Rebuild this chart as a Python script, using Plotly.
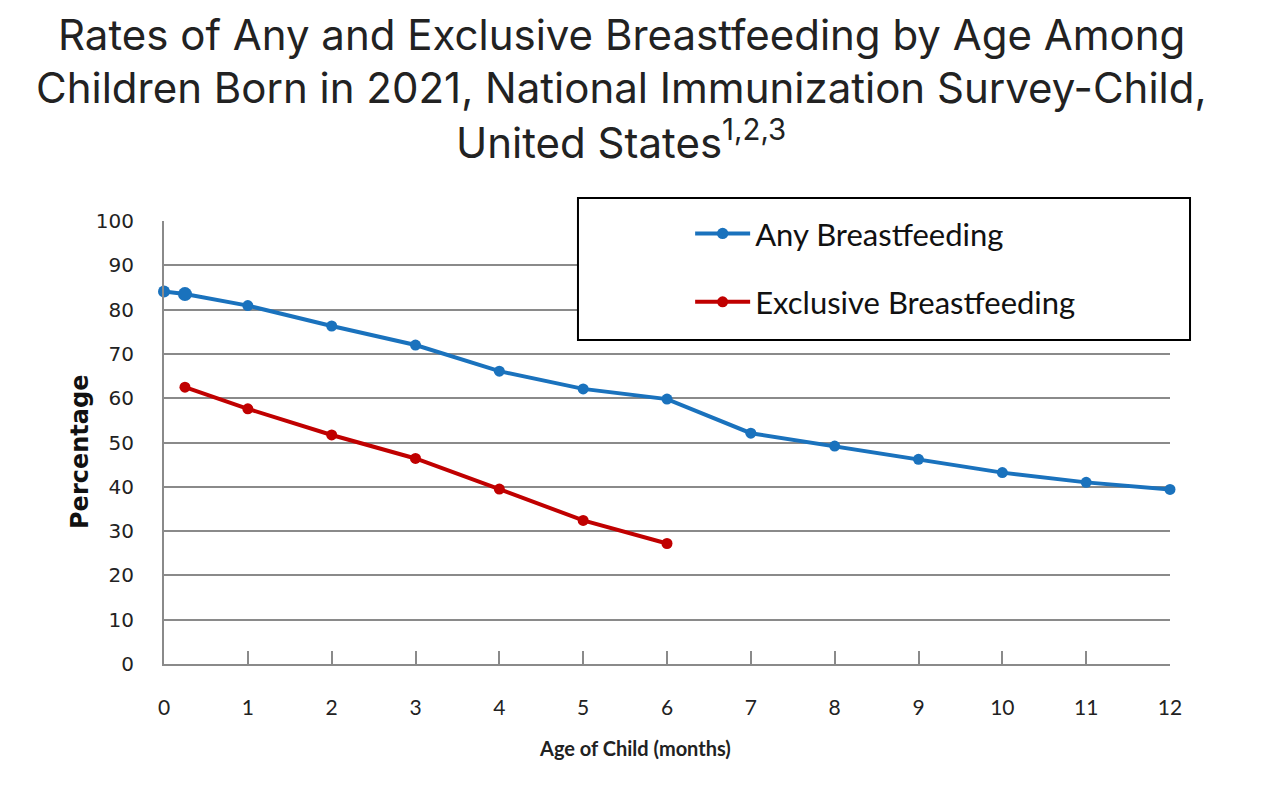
import plotly.graph_objects as go

# ---- data ----
any_age = [0, 0.25, 1, 2, 3, 4, 5, 6, 7, 8, 9, 10, 11, 12]
any_pct = [84.1, 83.5, 80.9, 76.3, 72.0, 66.1, 62.1, 59.8, 52.1, 49.2, 46.2, 43.2, 41.0, 39.4]
excl_age = [0.25, 1, 2, 3, 4, 5, 6]
excl_pct = [62.5, 57.6, 51.7, 46.4, 39.5, 32.4, 27.2]
any_marker_sizes = [12, 14, 11, 11, 11, 11, 11, 11, 11, 11, 11, 11, 11, 11]
x_ticks = list(range(0, 13))
y_ticks = list(range(0, 101, 10))

title_lines = ["Rates of Any and Exclusive Breastfeeding by Age Among",
               "Children Born in 2021, National Immunization Survey-Child,",
               "United States<sup>1,2,3</sup>"]
title_y = [1.420, 1.302, 1.183]

BLUE = "#1a72bd"
RED = "#c00000"
GRID = "#8a8a8a"

fig = go.Figure()
fig.add_trace(go.Scatter(
    x=any_age, y=any_pct, name="Any Breastfeeding", mode="lines+markers",
    line=dict(color=BLUE, width=4),
    marker=dict(color=BLUE, size=any_marker_sizes, opacity=1, line=dict(width=0)),
    cliponaxis=False, legendgroup="a"))
fig.add_trace(go.Scatter(
    x=excl_age, y=excl_pct, name="Exclusive Breastfeeding", mode="lines+markers",
    line=dict(color=RED, width=4),
    marker=dict(color=RED, size=11, opacity=1, line=dict(width=0)),
    cliponaxis=False, legendgroup="b"))

annotations = [
    dict(text=t, xref="paper", yref="paper", x=0.4543, y=yy, xanchor="center",
         yanchor="middle", showarrow=False,
         font=dict(family="Inter", size=42, color="#222222"))
    for t, yy in zip(title_lines, title_y)
]
annotations += [
    dict(text="<b>Age of Child (months)</b>", xref="paper", yref="paper",
         x=0.468, y=-0.1896, xanchor="center", yanchor="middle", showarrow=False,
         font=dict(family="Lato", size=20, color="#222222")),
    dict(text="<b>Percentage</b>", xref="paper", yref="paper",
         x=-0.0835, y=0.4786, xanchor="center", yanchor="middle", showarrow=False,
         textangle=-90, font=dict(family="DejaVu Sans", size=24, color="#111111")),
]

fig.update_layout(
    width=1249, height=771,
    margin=dict(l=156, r=87, t=213, b=115),
    paper_bgcolor="white", plot_bgcolor="white",
    showlegend=True,
    legend=dict(x=0.523, y=1.032, xanchor="left", yanchor="top",
                bgcolor="rgba(0,0,0,0)", borderwidth=0,
                font=dict(family="Lato", size=31, color="#111111"),
                traceorder="grouped", tracegroupgap=25, itemwidth=55),
    xaxis=dict(range=[0, 12], tickvals=x_ticks, ticktext=[str(v) for v in x_ticks],
               showgrid=False, zeroline=False, showline=True, linecolor=GRID, linewidth=2,
               ticks="inside", ticklen=13, tickwidth=2, tickcolor=GRID,
               ticklabelstandoff=24,
               tickfont=dict(family="Lato", size=21, color="#222222")),
    yaxis=dict(range=[0, 100], tickvals=y_ticks, showgrid=True, gridcolor=GRID, gridwidth=2,
               zeroline=False, showline=True, linecolor=GRID, linewidth=2, ticks="",
               ticklabelstandoff=24,
               tickfont=dict(family="DejaVu Sans", size=20, color="#222222")),
    shapes=[dict(type="rect", xref="paper", yref="paper",
                 x0=0.4115, x1=1.0199, y0=0.7314, y1=1.052,
                 line=dict(color="black", width=2), fillcolor="white", layer="above")],
    annotations=annotations,
)

fig.write_html("out.html")
